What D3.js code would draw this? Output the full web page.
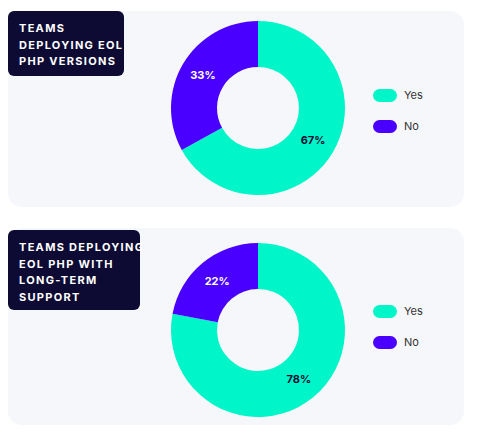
<!DOCTYPE html><html><head><meta charset="utf-8">
<script src="https://cdn.jsdelivr.net/npm/d3@7"></script>
<style>body{margin:0;background:#fff}svg{display:block}</style></head><body>
<script>
const titles = [["TEAMS","DEPLOYING EOL","PHP VERSIONS"],["TEAMS DEPLOYING","EOL PHP WITH","LONG-TERM","SUPPORT"]];
const categories = ["Yes","No"];
const values1 = [67,33];
const values2 = [78,22];
const colors = ["#00F5C8","#4A00FF"];
const panels = [
 {vals:values1,top:11,h:196,boxW:116,boxH:65,cy:108,ly:95},
 {vals:values2,top:228,h:197,boxW:132,boxH:80,cy:330,ly:311}
];
const svg = d3.select("body").append("svg").attr("width",480).attr("height",432);
const color = d3.scaleOrdinal(categories,colors);
const pie = d3.pie().sort(null).value(d=>d.v);
const arc = d3.arc().innerRadius(41).outerRadius(87);
const lab = d3.arc().innerRadius(64).outerRadius(64);
panels.forEach((p,i)=>{
 const g = svg.append("g");
 g.append("rect").attr("x",8).attr("y",p.top).attr("width",456).attr("height",p.h).attr("rx",14).attr("fill","#F6F7FB");
 g.append("rect").attr("x",8).attr("y",p.top+(i?2:0)).attr("width",p.boxW).attr("height",p.boxH).attr("rx",6).attr("fill","#0D0B33");
 titles[i].forEach((t,j)=>g.append("text").attr("x",19).attr("y",p.top+(i?2:0)+21+j*16.5).text(t)
   .attr("fill","#fff").attr("font-family","Inter, sans-serif").attr("font-weight",700).attr("font-size",11).attr("letter-spacing",1.3));
 const data = pie(categories.map((c,k)=>({c,v:p.vals[k]})));
 const dg = g.append("g").attr("transform",`translate(258,${p.cy})`);
 dg.selectAll("path").data(data).join("path").attr("d",arc).attr("fill",d=>color(d.data.c));
 dg.selectAll("text").data(data).join("text").attr("transform",d=>`translate(${lab.centroid(d)})`)
   .attr("text-anchor","middle").attr("dy","0.35em").text(d=>d.data.v+"%")
   .attr("fill",d=>d.data.c==="No"?"#fff":"#0D0B33").attr("font-family","Inter, sans-serif").attr("font-weight",700).attr("font-size",11);
 categories.forEach((c,k)=>{
  g.append("rect").attr("x",373).attr("y",p.ly-6+k*31).attr("width",24).attr("height",13).attr("rx",6.5).attr("fill",color(c));
  g.append("text").attr("x",404).attr("y",p.ly+k*31).attr("dy","0.35em").text(c).attr("fill","#333").attr("font-family","Inter, sans-serif").attr("font-size",11);
 });
});
</script></body></html>
